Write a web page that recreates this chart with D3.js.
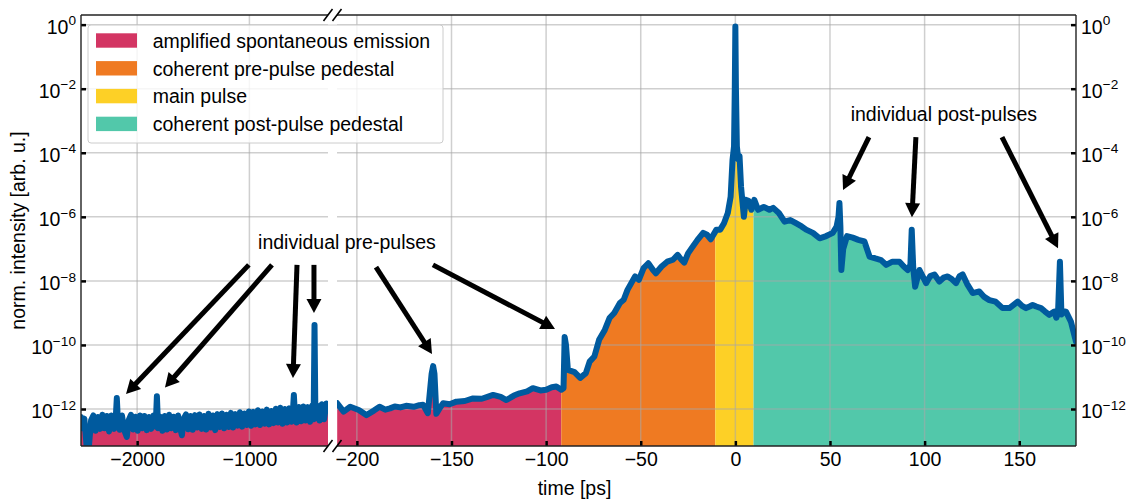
<!DOCTYPE html>
<html>
<head>
<meta charset="utf-8">
<script src="https://cdn.jsdelivr.net/npm/d3@7"></script>
<style>
  body { margin: 0; background: #fff; }
  svg { display: block; }
  text { font-family: "Liberation Sans", Arial, sans-serif; fill: #000; }
</style>
</head>
<body>
<svg id="chart" width="1134" height="500"></svg>
<script>
// ---------------- data ----------------
// Long-range window: [time (ps), log10 normalized intensity]
const farSamples = [
  [-2500,-12.25],[-2485,-12.60],[-2470,-12.30],[-2440,-13.60],[-2410,-12.35],[-2390,-12.20],[-2370,-12.68],
  [-2350,-12.25],[-2330,-12.62],[-2310,-12.18],[-2290,-12.60],[-2270,-12.22],[-2250,-12.70],[-2230,-12.20],
  [-2205,-12.62],[-2190,-12.25],[-2181,-11.66],[-2172,-12.30],[-2155,-12.65],[-2135,-12.20],[-2115,-12.66],
  [-2092,-12.87],[-2075,-12.35],[-2055,-12.18],[-2035,-12.64],[-2015,-12.24],[-1995,-12.68],[-1975,-12.20],
  [-1955,-12.60],[-1935,-12.22],[-1915,-12.66],[-1895,-12.25],[-1875,-12.62],[-1855,-12.20],[-1835,-12.55],
  [-1824,-11.60],[-1813,-12.60],[-1795,-12.24],[-1775,-12.68],[-1755,-12.22],[-1735,-12.64],[-1715,-12.18],
  [-1695,-12.60],[-1675,-12.24],[-1655,-12.66],[-1635,-12.20],[-1615,-12.62],[-1601,-12.82],[-1585,-12.30],
  [-1565,-12.17],[-1545,-12.63],[-1525,-12.22],[-1505,-12.65],[-1485,-12.19],[-1465,-12.58],[-1445,-12.17],
  [-1425,-12.62],[-1405,-12.22],[-1385,-12.64],[-1365,-12.15],[-1345,-12.58],[-1325,-12.20],[-1305,-12.66],
  [-1285,-12.16],[-1265,-12.56],[-1245,-12.14],[-1225,-12.60],[-1205,-12.18],[-1185,-12.56],[-1165,-12.12],
  [-1145,-12.58],[-1125,-12.16],[-1105,-12.52],[-1085,-12.10],[-1065,-12.55],[-1045,-12.14],[-1025,-12.50],
  [-1005,-12.08],[-985,-12.52],[-965,-12.09],[-945,-12.48],[-925,-12.04],[-905,-12.50],[-885,-12.08],
  [-865,-12.46],[-845,-12.02],[-825,-12.48],[-805,-12.06],[-785,-12.44],[-765,-11.99],[-745,-12.42],
  [-725,-11.96],[-705,-12.46],[-685,-12.00],[-665,-12.42],[-645,-11.98],[-625,-12.40],[-612,-12.04],
  [-604,-11.56],[-596,-12.10],[-580,-12.42],[-560,-11.94],[-540,-12.38],[-520,-11.92],[-500,-12.36],
  [-480,-11.94],[-460,-12.40],[-440,-11.89],[-428,-12.32],[-420,-9.38],[-412,-12.30],[-395,-11.90],
  [-375,-12.36],[-355,-11.85],[-335,-12.32],[-315,-11.83],[-300,-12.05]
];

// Close-in window around the main pulse: [time (ps), log10 normalized intensity]
const nearSamples = [
  [-210.4,-11.82],[-207,-12.08],[-203.5,-11.93],[-199,-12.03],[-195,-12.19],[-191,-12.05],[-188,-11.93],
  [-185,-12.02],[-182.5,-11.98],[-180,-11.92],[-177,-11.95],[-174,-11.90],[-170,-11.93],[-167,-11.88],
  [-165,-11.87],[-162.5,-12.13],[-160.5,-10.90],[-159.7,-10.66],[-159,-10.90],[-158,-12.15],[-156,-11.95],
  [-154.4,-11.82],[-151,-11.85],[-147.4,-11.77],[-143,-11.75],[-138.6,-11.67],[-134,-11.68],[-131,-11.62],
  [-128,-11.56],[-124,-11.62],[-121,-11.72],[-117,-11.58],[-114,-11.51],[-110,-11.45],[-107,-11.35],
  [-103,-11.42],[-100,-11.40],[-97,-11.32],[-94.6,-11.30],[-92,-11.40],[-90.8,-11.35],[-90.2,-9.75],
  [-89.5,-10.00],[-88.5,-10.78],[-85,-10.85],[-82,-11.03],[-79,-10.88],[-77,-10.52],[-74.5,-10.36],
  [-72,-9.84],[-69,-9.53],[-66.5,-9.16],[-64,-9.00],[-61,-8.69],[-59,-8.59],[-57,-8.28],[-55,-8.07],
  [-53,-7.86],[-51,-7.97],[-48.5,-7.60],[-46,-7.45],[-43.5,-7.66],[-42,-7.76],[-39,-7.55],[-36,-7.40],
  [-33,-7.34],[-30.5,-7.19],[-28.5,-7.34],[-27,-7.43],[-25,-7.14],[-23,-6.97],[-20,-6.72],[-17,-6.50],
  [-15,-6.56],[-13,-6.70],[-10,-6.40],[-8,-6.40],[-6,-6.20],[-4,-5.88],[-2.5,-5.37],[-1.5,-4.22],
  [-0.7,-3.80],[-0.3,-2.00],[0,-0.06],[0.3,-2.00],[0.8,-3.80],[1.5,-4.20],[2.2,-4.10],[3,-5.06],
  [4.5,-6.00],[5.5,-5.47],[7,-5.50],[8.5,-5.78],[10,-5.47],[12,-5.78],[15,-5.69],[18,-5.78],[20,-5.72],
  [23,-5.88],[26,-6.15],[29,-6.10],[32,-6.20],[35,-6.30],[37.4,-6.40],[41,-6.50],[44.5,-6.67],[48,-6.60],
  [51.5,-6.50],[53.5,-6.30],[54.5,-6.00],[55,-5.57],[55.5,-6.30],[56,-7.66],[57,-7.00],[59,-6.60],
  [62,-6.65],[65,-6.72],[68.2,-6.77],[70.9,-7.24],[74,-7.30],[77,-7.35],[79.7,-7.50],[83,-7.40],
  [86.7,-7.40],[89,-7.55],[91.1,-7.66],[92.5,-7.50],[93.2,-6.40],[94,-7.60],[95,-8.18],[97.3,-7.66],
  [100.8,-8.07],[103,-7.85],[105.2,-7.80],[107.8,-8.02],[110,-7.90],[112.2,-7.86],[114.5,-7.95],
  [116.6,-8.07],[118.5,-7.85],[120.1,-7.80],[122.5,-8.10],[125.4,-8.38],[128.9,-8.33],[131.5,-8.50],
  [134.2,-8.60],[137.5,-8.65],[141.2,-8.85],[144.8,-8.85],[147,-8.75],[149.2,-8.65],[151.5,-8.78],
  [153.6,-8.85],[155.5,-8.80],[157.1,-8.75],[159,-8.80],[161.5,-8.85],[163.5,-8.95],[165.9,-9.06],
  [168.5,-8.96],[169.6,-9.15],[170.5,-9.00],[171.5,-7.40],[172.3,-9.05],[173.5,-8.95],[174.7,-8.96],
  [177.3,-9.27],[180,-9.90]
];

// Temporal regions of the contrast trace
const regionNames = [
  "amplified spontaneous emission",
  "coherent pre-pulse pedestal",
  "main pulse",
  "coherent post-pulse pedestal"
];
const regionColors = ["#d33563", "#ef7a22", "#fdd026", "#52c8aa"];
const regionEdges = [-92, -10.6, 9.6];   // ps, boundaries between consecutive regions

// Ticks
const farTicks = [-2000, -1000];
const nearTicks = [-200, -150, -100, -50, 0, 50, 100, 150];
const yTickExponents = [0, -2, -4, -6, -8, -10, -12];

// Annotation arrows: window, tail [t, log10 I], head [t, log10 I]
const prePulseArrows = [
  { win: "far",  from: [-1005, -7.50], to: [-2099, -11.53] },
  { win: "far",  from: [-799,  -7.50], to: [-1752, -11.33] },
  { win: "far",  from: [-576,  -7.50], to: [-612,  -11.03] },
  { win: "far",  from: [-425,  -7.50], to: [-425,  -9.00] },
  { win: "near", from: [-189.9, -7.57], to: [-160.3, -10.28] },
  { win: "near", from: [-159.8, -7.50], to: [-95.3,  -9.50] }
];
const postPulseArrows = [
  { win: "near", from: [70.6, -3.51], to: [56.9, -5.16] },
  { win: "near", from: [95.4, -3.51], to: [93.3, -6.01] },
  { win: "near", from: [140.9, -3.51], to: [170.5, -6.98] }
];
const annotationLabels = [
  { text: "individual pre-pulses",  win: "far",  t: -923,  logI: -7.02, anchor: "start" },
  { text: "individual post-pulses", win: "near", t: 110.2, logI: -3.00, anchor: "middle" }
];

// ---------------- layout ----------------
const plotTop = 15, plotBottom = 446, plotLeft = 81, plotRight = 1076;
const farEnd = 328, nearStart = 337;
const FONT = 19.5;

const svg = d3.select("#chart");

const xFar = d3.scaleLinear().domain([-2500, -300]).range([plotLeft, farEnd]);
const xNear = d3.scaleLinear().domain([-210.5, 180]).range([nearStart, plotRight]);
const y = d3.scaleLog().domain([7e-14, 2]).range([plotBottom, plotTop]);
const xOf = { far: xFar, near: xNear };

const toPoints = arr => arr.map(([t, l]) => ({ t, v: Math.pow(10, l) }));
const farPts = toPoints(farSamples);
const nearPts = toPoints(nearSamples);

// ---------------- clip paths ----------------
const defs = svg.append("defs");
function addClip(id, x0, x1) {
  defs.append("clipPath").attr("id", id)
    .append("rect")
    .attr("x", x0).attr("y", plotTop)
    .attr("width", Math.max(0, x1 - x0)).attr("height", plotBottom - plotTop);
}
addClip("clip-far", plotLeft, farEnd);
addClip("clip-near", nearStart, plotRight);
const bounds = [-Infinity, ...regionEdges, Infinity];
regionNames.forEach((_, i) => {
  const a = Math.max(nearStart, bounds[i] === -Infinity ? nearStart : xNear(bounds[i]));
  const b = Math.min(plotRight, bounds[i + 1] === Infinity ? plotRight : xNear(bounds[i + 1]));
  addClip("clip-region-" + i, a, b);
});

// ---------------- filled regions under the trace ----------------
const areaFar = d3.area().x(d => xFar(d.t)).y0(plotBottom).y1(d => y(d.v));
const areaNear = d3.area().x(d => xNear(d.t)).y0(plotBottom).y1(d => y(d.v));

svg.append("path").attr("d", areaFar(farPts))
  .attr("fill", regionColors[0]).attr("clip-path", "url(#clip-far)");
regionNames.forEach((_, i) => {
  svg.append("path").attr("d", areaNear(nearPts))
    .attr("fill", regionColors[i]).attr("clip-path", "url(#clip-region-" + i + ")");
});

// ---------------- grid ----------------
const grid = svg.append("g").attr("stroke", "#a8a8a8").attr("stroke-opacity", 0.55).attr("stroke-width", 1.5);
[[xFar, farTicks, plotLeft, farEnd], [xNear, nearTicks, nearStart, plotRight]].forEach(([sx, ticks, x0, x1]) => {
  ticks.forEach(t => grid.append("line")
    .attr("x1", sx(t)).attr("x2", sx(t)).attr("y1", plotTop).attr("y2", plotBottom));
  yTickExponents.forEach(e => grid.append("line")
    .attr("x1", x0).attr("x2", x1).attr("y1", y(Math.pow(10, e))).attr("y2", y(Math.pow(10, e))));
});

// ---------------- trace ----------------
const lineFar = d3.line().x(d => xFar(d.t)).y(d => y(d.v));
const lineNear = d3.line().x(d => xNear(d.t)).y(d => y(d.v));
[[lineFar(farPts), "clip-far"], [lineNear(nearPts), "clip-near"]].forEach(([d, clip]) => {
  svg.append("path").attr("d", d)
    .attr("fill", "none").attr("stroke", "#005a9e").attr("stroke-width", 6)
    .attr("stroke-linejoin", "round").attr("stroke-linecap", "round")
    .attr("clip-path", "url(#" + clip + ")");
});

// ---------------- axes ----------------
function styleAxis(g) {
  g.select(".domain").remove();
  g.selectAll(".tick line").attr("stroke", "#000").attr("stroke-width", 2.5);
  g.selectAll("text").attr("font-size", FONT).attr("font-family", "'Liberation Sans', Arial, sans-serif");
}
svg.append("g").attr("transform", `translate(0,${plotBottom})`)
  .call(d3.axisBottom(xFar).tickValues(farTicks).tickFormat(d3.format("d"))
    .tickSizeInner(-5).tickSizeOuter(0).tickPadding(6))
  .call(styleAxis);
svg.append("g").attr("transform", `translate(0,${plotBottom})`)
  .call(d3.axisBottom(xNear).tickValues(nearTicks).tickFormat(d3.format("d"))
    .tickSizeInner(-5).tickSizeOuter(0).tickPadding(6))
  .call(styleAxis);

function powerLabels(g) {
  g.selectAll(".tick text").each(function (d) {
    const t = d3.select(this);
    const e = Math.round(Math.log10(d));
    t.text(null).attr("dy", 8.7);
    t.append("tspan").text("10");
    t.append("tspan").attr("dy", -8.5).attr("font-size", FONT * 0.7)
      .text(e < 0 ? "\u2212" + Math.abs(e) : String(e));
  });
}
const yVals = yTickExponents.map(e => Math.pow(10, e));
svg.append("g").attr("transform", `translate(${plotLeft},0)`)
  .call(d3.axisLeft(y).tickValues(yVals).tickFormat(() => "")
    .tickSizeInner(-5).tickSizeOuter(0).tickPadding(5))
  .call(styleAxis).call(powerLabels);
svg.append("g").attr("transform", `translate(${plotRight},0)`)
  .call(d3.axisRight(y).tickValues(yVals).tickFormat(() => "")
    .tickSizeInner(-5).tickSizeOuter(0).tickPadding(5))
  .call(styleAxis).call(powerLabels);

// ---------------- spines and break marks ----------------
const spines = svg.append("g").attr("stroke", "#222").attr("stroke-width", 1.4).attr("fill", "none");
[[plotLeft, farEnd], [nearStart, plotRight]].forEach(([a, b]) => {
  spines.append("line").attr("x1", a).attr("x2", b).attr("y1", plotTop).attr("y2", plotTop);
  spines.append("line").attr("x1", a).attr("x2", b).attr("y1", plotBottom).attr("y2", plotBottom);
});
spines.append("line").attr("x1", plotLeft).attr("x2", plotLeft).attr("y1", plotTop).attr("y2", plotBottom);
spines.append("line").attr("x1", plotRight).attr("x2", plotRight).attr("y1", plotTop).attr("y2", plotBottom);
[farEnd, nearStart].forEach(x => [plotTop, plotBottom].forEach(yy => {
  spines.append("line").attr("stroke", "#000").attr("stroke-width", 1.6)
    .attr("x1", x - 4.5).attr("y1", yy + 6).attr("x2", x + 4.5).attr("y2", yy - 6);
}));

// ---------------- axis titles ----------------
svg.append("text").attr("x", (plotLeft + plotRight) / 2 - 4).attr("y", 495)
  .attr("text-anchor", "middle").attr("font-size", FONT).text("time [ps]");
svg.append("text").attr("transform", `translate(25,${(plotTop + plotBottom) / 2}) rotate(-90)`)
  .attr("text-anchor", "middle").attr("font-size", FONT).text("norm. intensity [arb. u.]");

// ---------------- annotations ----------------
function arrow(g, x1, y1, x2, y2) {
  const dx = x2 - x1, dy = y2 - y1, len = Math.hypot(dx, dy);
  const ux = dx / len, uy = dy / len, nx = -uy, ny = ux;
  const hl = 14, hw = 7.5;
  const bx = x2 - ux * hl, by = y2 - uy * hl;
  g.append("line").attr("x1", x1).attr("y1", y1).attr("x2", bx + ux).attr("y2", by + uy)
    .attr("stroke", "#000").attr("stroke-width", 5);
  g.append("polygon")
    .attr("points", [[x2, y2], [bx + nx * hw, by + ny * hw], [bx - nx * hw, by - ny * hw]].map(p => p.join(",")).join(" "))
    .attr("fill", "#000");
}
const ann = svg.append("g");
[...prePulseArrows, ...postPulseArrows].forEach(a => {
  const sx = xOf[a.win];
  arrow(ann, sx(a.from[0]), y(Math.pow(10, a.from[1])), sx(a.to[0]), y(Math.pow(10, a.to[1])));
});
annotationLabels.forEach(l => {
  ann.append("text").attr("x", xOf[l.win](l.t)).attr("y", y(Math.pow(10, l.logI)))
    .attr("text-anchor", l.anchor).attr("font-size", FONT).text(l.text);
});

// ---------------- legend ----------------
const legend = svg.append("g");
legend.append("rect").attr("x", 88).attr("y", 25).attr("width", 355).attr("height", 118).attr("rx", 3)
  .attr("fill", "#fff").attr("fill-opacity", 0.8).attr("stroke", "#cccccc").attr("stroke-width", 1);
regionNames.forEach((name, i) => {
  const base = 47.7 + i * 27.8;
  legend.append("rect").attr("x", 96).attr("y", base - 14.4).attr("width", 41).attr("height", 14.4)
    .attr("fill", regionColors[i]);
  legend.append("text").attr("x", 152.7).attr("y", base).attr("font-size", FONT).text(name);
});
</script>
</body>
</html>
